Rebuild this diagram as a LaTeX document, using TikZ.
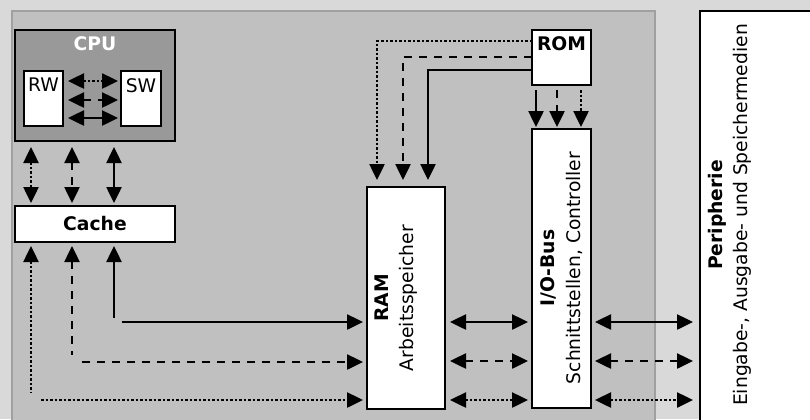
\documentclass[tikz,border=0pt]{standalone}
\usepackage{fontspec}
\setmainfont{DejaVu Sans}
\usetikzlibrary{arrows.meta,calc}
\definecolor{bgout}{HTML}{D9D9D9}
\definecolor{panelfill}{HTML}{C0C0C0}
\definecolor{panelline}{HTML}{A0A0A0}
\definecolor{cpufill}{HTML}{999999}
\begin{document}
\fontsize{18.8}{25.5}\selectfont
\begin{tikzpicture}[x=1bp,y=-1bp,
  >={Triangle[length=16bp,width=15bp]},
  box/.style={draw=black, line width=2.6bp, fill=white, inner sep=0pt, outer sep=0pt, anchor=north west},
  con/.style={line width=2.5bp},
  dots/.style={dash pattern=on 2.5bp off 2bp},
  dashes/.style={dash pattern=on 8bp off 7bp},
  rtxt/.style={rotate=90, align=center, inner sep=0pt}
]
\useasboundingbox (0,0) rectangle (810,419);
\fill[bgout] (0,0) rectangle (810,419);
\clip (0,0) rectangle (810,419);
% panel
\draw[panelline, line width=2.5bp, fill=panelfill] (12,11) rectangle (655,440);

% boxes
\node[box, fill=cpufill, minimum width=160bp, minimum height=111bp,
  label={[anchor=north, yshift=-6.5bp, inner sep=0pt, text=white, font=\bfseries]north:CPU}] (cpu) at (15,30) {};
\node[box, minimum width=39bp, minimum height=55bp,
  label={[anchor=north, yshift=-7bp, inner sep=0pt]north:RW}] (rw) at (24,71) {};
\node[box, minimum width=40bp, minimum height=55bp,
  label={[anchor=north, yshift=-7bp, inner sep=0pt]north:SW}] (sw) at (121,71) {};
\node[box, minimum width=160bp, minimum height=36bp, font=\bfseries] (cache) at (15,206) {Cache};
\node[box, minimum width=78bp, minimum height=222bp] (ram) at (367,187) {};
\node[rtxt] (ramtxt) at (396,298) {\textbf{RAM}\\Arbeitsspeicher};
\node[box, minimum width=59bp, minimum height=279bp] (io) at (532,129) {};
\node[rtxt] (iotxt) at (561.5,268) {\textbf{I/O-Bus}\\Schnittstellen, Controller};
\node[box, minimum width=59bp, minimum height=55bp,
  label={[anchor=north, yshift=-6.5bp, inner sep=0pt, font=\bfseries]north:ROM}] (rom) at (532,30) {};
\node[box, minimum width=150bp, minimum height=450bp] (periph) at (700,11) {};
\node[rtxt] (periphtxt) at (730,215) {\textbf{Peripherie}\\Eingabe-, Ausgabe- und Speichermedien};

% helper coordinates
\coordinate (xa) at (31,0);
\coordinate (xb) at (72,0);
\coordinate (xc) at (114,0);
\coordinate (ya) at (0,81);
\coordinate (yb) at (0,100);
\coordinate (yc) at (0,118);

% CPU internal RW <-> SW
\draw[con, dots, <->, shorten <=5bp, shorten >=3bp] (rw.east |- ya) -- (sw.west |- ya);
\draw[con, dashes, <->, shorten <=5bp, shorten >=3bp] (rw.east |- yb) -- (sw.west |- yb);
\draw[con, <->, shorten <=5bp, shorten >=3bp] (rw.east |- yc) -- (sw.west |- yc);

% CPU <-> Cache
\draw[con, dots, <->, shorten <=6bp, shorten >=3bp] (cpu.south -| xa) -- (cache.north -| xa);
\draw[con, dashes, <->, shorten <=6bp, shorten >=3bp] (cpu.south -| xb) -- (cache.north -| xb);
\draw[con, <->, shorten <=6bp, shorten >=3bp] (cpu.south -| xc) -- (cache.north -| xc);

% Cache <-> RAM
\coordinate (s1a) at (31,393);  \coordinate (s1b) at (41,400);
\coordinate (s2a) at (72,355);  \coordinate (s2b) at (82,362);
\coordinate (s3a) at (114,318); \coordinate (s3b) at (122,322);
\draw[con, dots, <-, shorten <=4bp] (cache.south -| s1a) -- (s1a);
\draw[con, dots, ->, shorten >=4bp] (s1b) -- (ram.west |- s1b);
\draw[con, dashes, <-, shorten <=4bp] (cache.south -| s2a) -- (s2a);
\draw[con, dashes, ->, shorten >=4bp] (s2b) -- (ram.west |- s2b);
\draw[con, <-, shorten <=4bp] (cache.south -| s3a) -- (s3a);
\draw[con, ->, shorten >=4bp] (s3b) -- (ram.west |- s3b);

% ROM -> RAM
\coordinate (r1) at (377,41);
\coordinate (r2) at (403,57);
\coordinate (r3) at (428,70);
\draw[con, dots, ->, shorten >=7bp] (rom.west |- r1) -| (ram.north -| r1);
\draw[con, dashes, ->, shorten >=7bp] (rom.west |- r2) -| (ram.north -| r2);
\draw[con, ->, shorten >=7bp] (rom.west |- r3) -| (ram.north -| r3);

% ROM -> I/O
\coordinate (q1) at (536,0);
\coordinate (q2) at (557,0);
\coordinate (q3) at (581,0);
\draw[con, ->, shorten <=5bp, shorten >=2bp] (rom.south -| q1) -- (io.north -| q1);
\draw[con, dashes, ->, shorten <=5bp, shorten >=2bp] (rom.south -| q2) -- (io.north -| q2);
\draw[con, dots, ->, shorten <=5bp, shorten >=2bp] (rom.south -| q3) -- (io.north -| q3);

% RAM <-> I/O <-> Peripherie
\coordinate (h1) at (0,322);
\coordinate (h2) at (0,361);
\coordinate (h3) at (0,400);
\draw[con, <->, shorten <=5bp, shorten >=4bp] (ram.east |- h1) -- (io.west |- h1);
\draw[con, dashes, <->, shorten <=5bp, shorten >=4bp] (ram.east |- h2) -- (io.west |- h2);
\draw[con, dots, <->, shorten <=5bp, shorten >=4bp] (ram.east |- h3) -- (io.west |- h3);
\draw[con, <->, shorten <=4bp, shorten >=7bp] (io.east |- h1) -- (periph.west |- h1);
\draw[con, dashes, <->, shorten <=4bp, shorten >=7bp] (io.east |- h2) -- (periph.west |- h2);
\draw[con, dots, <->, shorten <=4bp, shorten >=7bp] (io.east |- h3) -- (periph.west |- h3);
\end{tikzpicture}
\end{document}
